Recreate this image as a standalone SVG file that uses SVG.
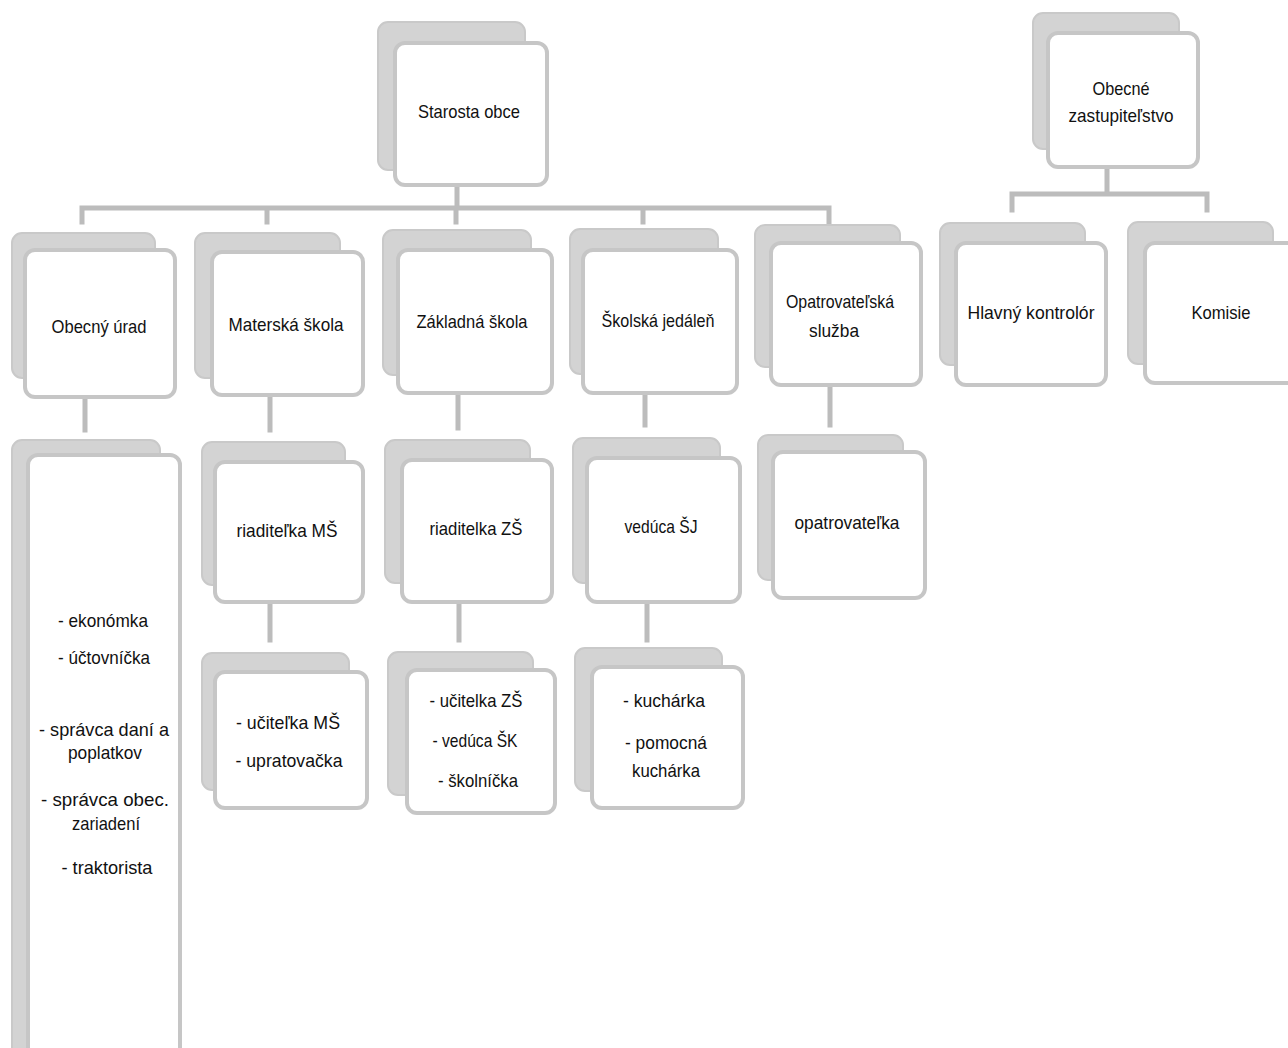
<svg xmlns="http://www.w3.org/2000/svg" width="1288" height="1048" viewBox="0 0 1288 1048">
<style>
.bk{fill:#d3d3d3;stroke:#c9c9c9;stroke-width:2}
.fr{fill:#ffffff;stroke:#c6c6c6;stroke-width:4}
.t{font-family:"Liberation Sans",Arial,sans-serif;font-size:19px;fill:#111;text-anchor:middle}
.ln{stroke:#bcbcbc;stroke-width:5;fill:none;stroke-linecap:square}
</style>
<rect width="1288" height="1048" fill="#ffffff"/>
<g id="connectors">
<path class="ln" d="M457 185V208M82 222V208H829V222M267 208V222M456 208V222M643 208V222"/>
<path class="ln" d="M1107 167V194M1012 210V194H1207V210"/>
<path class="ln" d="M85 398V430M270 396V430M458 394V428M645 394V425M830 386V425"/>
<path class="ln" d="M270 603V640M459 603V640M647 603V640"/>
</g>
<g id="n-starosta"><rect class="bk" x="378" y="22" width="147" height="148" rx="10"/><rect class="fr" x="395" y="43" width="152" height="142" rx="10"/><text class="t" x="469" y="118" textLength="102" lengthAdjust="spacingAndGlyphs">Starosta obce</text></g>
<g id="n-zastupitelstvo"><rect class="bk" x="1033" y="13" width="146" height="136" rx="10"/><rect class="fr" x="1048" y="33" width="150" height="134" rx="10"/><text class="t" x="1121" y="95" textLength="57" lengthAdjust="spacingAndGlyphs">Obecné</text><text class="t" x="1121" y="122" textLength="105" lengthAdjust="spacingAndGlyphs">zastupiteľstvo</text></g>
<g id="n-obecny-urad"><rect class="bk" x="12" y="233" width="143" height="145" rx="10"/><rect class="fr" x="25" y="250" width="150" height="147" rx="10"/><text class="t" x="99" y="333" textLength="95" lengthAdjust="spacingAndGlyphs">Obecný úrad</text></g>
<g id="n-materska"><rect class="bk" x="195" y="233" width="145" height="145" rx="10"/><rect class="fr" x="212" y="252" width="151" height="143" rx="10"/><text class="t" x="286" y="331" textLength="115" lengthAdjust="spacingAndGlyphs">Materská škola</text></g>
<g id="n-zakladna"><rect class="bk" x="383" y="230" width="148" height="145" rx="10"/><rect class="fr" x="398" y="250" width="154" height="143" rx="10"/><text class="t" x="472" y="328" textLength="111" lengthAdjust="spacingAndGlyphs">Základná škola</text></g>
<g id="n-skolska"><rect class="bk" x="570" y="229" width="148" height="145" rx="10"/><rect class="fr" x="583" y="250" width="154" height="143" rx="10"/><text class="t" x="658" y="327" textLength="113" lengthAdjust="spacingAndGlyphs">Školská jedáleň</text></g>
<g id="n-opatrovatelska"><rect class="bk" x="755" y="225" width="145" height="142" rx="10"/><rect class="fr" x="771" y="243" width="150" height="142" rx="10"/><text class="t" x="840" y="308" textLength="108" lengthAdjust="spacingAndGlyphs">Opatrovateľská</text><text class="t" x="834" y="337" textLength="50" lengthAdjust="spacingAndGlyphs">služba</text></g>
<g id="n-kontrolor"><rect class="bk" x="940" y="223" width="145" height="142" rx="10"/><rect class="fr" x="956" y="243" width="150" height="142" rx="10"/><text class="t" x="1031" y="319" textLength="127" lengthAdjust="spacingAndGlyphs">Hlavný kontrolór</text></g>
<g id="n-komisie"><rect class="bk" x="1128" y="222" width="145" height="142" rx="10"/><rect class="fr" x="1145" y="243" width="152" height="140" rx="10"/><text class="t" x="1221" y="319" textLength="59" lengthAdjust="spacingAndGlyphs">Komisie</text></g>
<g id="n-urad-staff"><rect class="bk" x="12" y="440" width="148" height="620" rx="10"/><rect class="fr" x="28" y="455" width="152" height="610" rx="10"/><text class="t" x="103" y="627" textLength="90" lengthAdjust="spacingAndGlyphs">- ekonómka</text><text class="t" x="104" y="664" textLength="92" lengthAdjust="spacingAndGlyphs">- účtovníčka</text><text class="t" x="104" y="736" textLength="130" lengthAdjust="spacingAndGlyphs">- správca daní a</text><text class="t" x="105" y="759" textLength="74" lengthAdjust="spacingAndGlyphs">poplatkov</text><text class="t" x="105" y="806" textLength="128" lengthAdjust="spacingAndGlyphs">- správca obec.</text><text class="t" x="106" y="830" textLength="68" lengthAdjust="spacingAndGlyphs">zariadení</text><text class="t" x="107" y="874" textLength="91" lengthAdjust="spacingAndGlyphs">- traktorista</text></g>
<g id="n-riaditelka-ms"><rect class="bk" x="202" y="442" width="143" height="143" rx="10"/><rect class="fr" x="215" y="462" width="148" height="140" rx="10"/><text class="t" x="287" y="537" textLength="101" lengthAdjust="spacingAndGlyphs">riaditeľka MŠ</text></g>
<g id="n-riaditelka-zs"><rect class="bk" x="385" y="440" width="145" height="143" rx="10"/><rect class="fr" x="402" y="460" width="150" height="142" rx="10"/><text class="t" x="476" y="535" textLength="93" lengthAdjust="spacingAndGlyphs">riaditelka ZŠ</text></g>
<g id="n-veduca-sj"><rect class="bk" x="573" y="438" width="147" height="145" rx="10"/><rect class="fr" x="587" y="458" width="153" height="144" rx="10"/><text class="t" x="661" y="533" textLength="73" lengthAdjust="spacingAndGlyphs">vedúca ŠJ</text></g>
<g id="n-opatrovatelka"><rect class="bk" x="758" y="435" width="145" height="145" rx="10"/><rect class="fr" x="773" y="452" width="152" height="146" rx="10"/><text class="t" x="847" y="529" textLength="105" lengthAdjust="spacingAndGlyphs">opatrovateľka</text></g>
<g id="n-ms-staff"><rect class="bk" x="202" y="653" width="147" height="137" rx="10"/><rect class="fr" x="215" y="672" width="152" height="136" rx="10"/><text class="t" x="288" y="729" textLength="104" lengthAdjust="spacingAndGlyphs">- učiteľka MŠ</text><text class="t" x="289" y="767" textLength="107" lengthAdjust="spacingAndGlyphs">- upratovačka</text></g>
<g id="n-zs-staff"><rect class="bk" x="388" y="652" width="145" height="143" rx="10"/><rect class="fr" x="407" y="670" width="148" height="143" rx="10"/><text class="t" x="476" y="707" textLength="93" lengthAdjust="spacingAndGlyphs">- učitelka ZŠ</text><text class="t" x="475" y="747" textLength="85" lengthAdjust="spacingAndGlyphs">- vedúca ŠK</text><text class="t" x="478" y="787" textLength="80" lengthAdjust="spacingAndGlyphs">- školníčka</text></g>
<g id="n-sj-staff"><rect class="bk" x="575" y="648" width="147" height="143" rx="10"/><rect class="fr" x="592" y="667" width="151" height="141" rx="10"/><text class="t" x="664" y="707" textLength="82" lengthAdjust="spacingAndGlyphs">- kuchárka</text><text class="t" x="666" y="749" textLength="82" lengthAdjust="spacingAndGlyphs">- pomocná</text><text class="t" x="666" y="777" textLength="68" lengthAdjust="spacingAndGlyphs">kuchárka</text></g>
</svg>
